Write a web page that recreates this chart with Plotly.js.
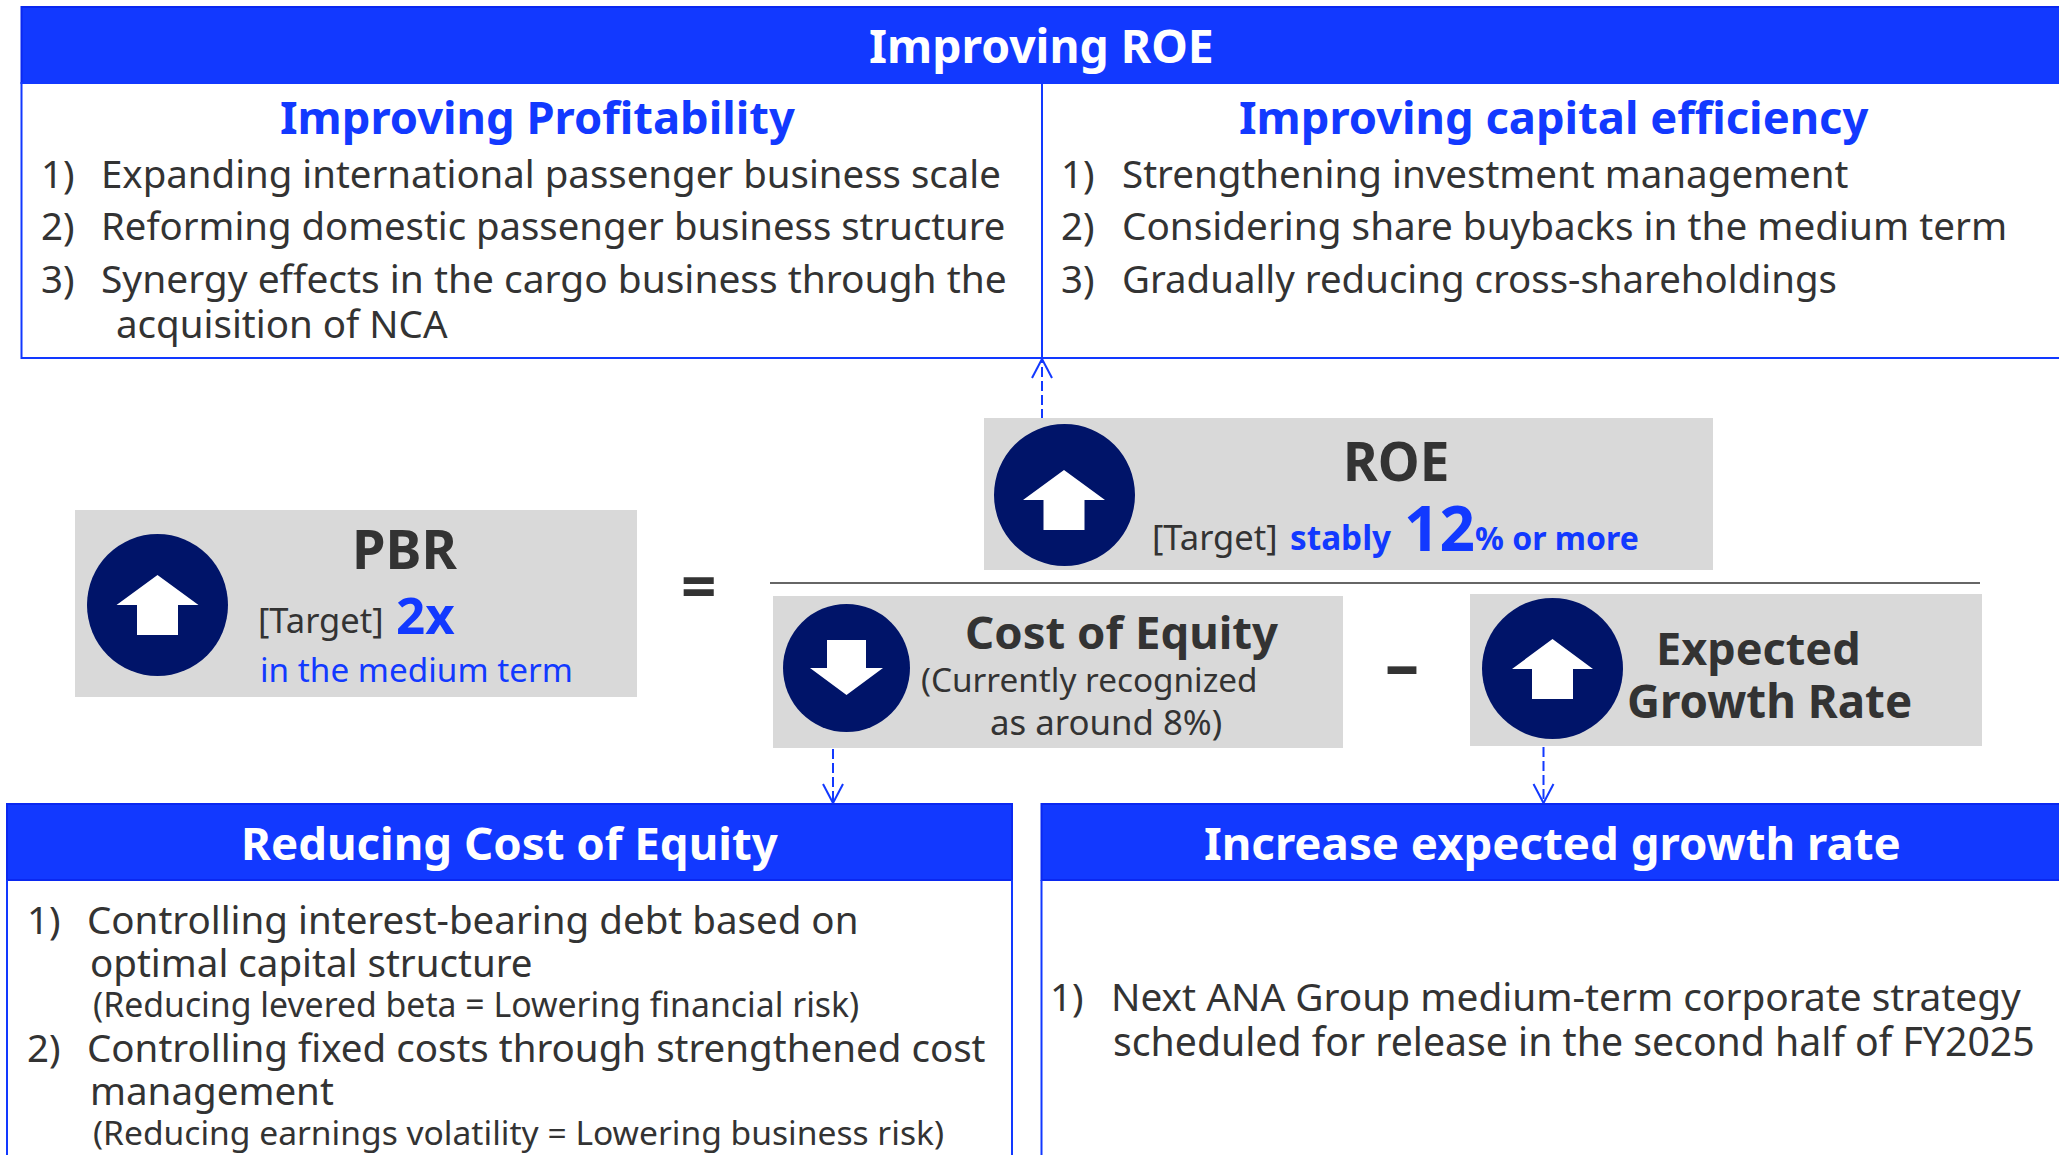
<!DOCTYPE html>
<html><head><meta charset="utf-8">
<script src="https://cdn.plot.ly/plotly-3.0.1.min.js"></script>
<style>html,body{margin:0;padding:0;background:#fff}#chart{width:2059px;height:1155px}</style></head>
<body><div id="chart"></div>
<script>
const mainTitle = "Improving ROE";
const profitabilityTitle = "Improving Profitability";
const profitabilityItems = ["Expanding international passenger business scale","Reforming domestic passenger business structure","Synergy effects in the cargo business through the","acquisition of NCA"];
const efficiencyTitle = "Improving capital efficiency";
const efficiencyItems = ["Strengthening investment management","Considering share buybacks in the medium term","Gradually reducing cross-shareholdings"];
const equityTitle = "Reducing Cost of Equity";
const equityItems = ["Controlling interest-bearing debt based on","optimal capital structure","(Reducing levered beta = Lowering financial risk)","Controlling fixed costs through strengthened cost","management","(Reducing earnings volatility = Lowering business risk)"];
const growthTitle = "Increase expected growth rate";
const growthItems = ["Next ANA Group medium-term corporate strategy","scheduled for release in the second half of FY2025"];
const numerals = ["1)","2)","3)"];

const BLUE="#1239ff", EDGE="#0a28f0", NAVY="#001469", GREY="#d9d9d9", INK="#333333";
const FONT='"Noto Sans", sans-serif';
const shapes=[], annotations=[];
function rect(x0,y0,x1,y1,fill,line,w){shapes.push({type:'rect',xref:'x',yref:'y',x0,y0,x1,y1,fillcolor:fill,line:{color:line||fill,width:line?(w||2):0},layer:'below'});}
function seg(x0,y0,x1,y1,c,w,dash){shapes.push({type:'line',xref:'x',yref:'y',x0,y0,x1,y1,line:{color:c,width:w,dash:dash||'solid'},layer:'below'});}
function circ(x0,y0,x1,y1){shapes.push({type:'circle',xref:'x',yref:'y',x0,y0,x1,y1,fillcolor:NAVY,line:{width:0},layer:'below'});}
function poly(pts){shapes.push({type:'path',xref:'x',yref:'y',path:'M'+pts.map(p=>p.join(',')).join('L')+'Z',fillcolor:'#fff',line:{width:0},layer:'below'});}
function arrowUp(cx,tip,wing,bot,hw,sw){poly([[cx,tip],[cx+hw,wing],[cx+sw,wing],[cx+sw,bot],[cx-sw,bot],[cx-sw,wing],[cx-hw,wing]]);}
function T(text,x,base,size,color,bold,anchor){annotations.push({text:text,x:x,y:base-0.40*size,xref:'x',yref:'y',xanchor:anchor||'left',yanchor:'middle',showarrow:false,borderpad:0,font:{family:FONT,size:size,color:color||INK,weight:bold?700:400}});}
function dashArrow(x,from,to,dir){seg(x,from,x,to,BLUE,2,'10px,4px');seg(x-10,to-dir*19,x,to,BLUE,2);seg(x+10,to-dir*19,x,to,BLUE,2);}

// top panel
rect(21.5,7,2075,83,BLUE,EDGE);
rect(21.5,83,2075,358,'rgba(0,0,0,0)',BLUE);
seg(1042,83,1042,358,BLUE,2);
dashArrow(1042,419,359,-1);
// bottom panels
rect(7,804,1012,880,BLUE,EDGE);
rect(1041.5,804,2075,880,BLUE,EDGE);
seg(7,880,7,1160,BLUE,2);seg(1012,880,1012,1160,BLUE,2);seg(1041.5,880,1041.5,1160,BLUE,2);
dashArrow(833,749,803,1);dashArrow(1543.5,747,803,1);
// grey boxes
rect(75,510,637,697,GREY);rect(984,418,1713,570,GREY);rect(773,596,1343,748,GREY);rect(1470,594,1982,746,GREY);
seg(770,583,1980,583,'#666666',2);
circ(87,534,228,676);circ(994,424,1135,566);circ(783,604,910,732);circ(1482,598,1623,739);
arrowUp(157.5,575,605,635,41,20.5);
arrowUp(1064,470,500,530,41,20.5);
arrowUp(846.5,695,668,640,36.5,19.5);
arrowUp(1552.5,639,669,699,40.5,20.5);

// text
T(mainTitle,1041,64,46.3,'#fff',true,'center');
T(profitabilityTitle,537.5,134.5,45.3,BLUE,true,'center');
T(efficiencyTitle,1553,134.5,45.3,BLUE,true,'center');
const topBases=[188,240,293];
const leftSizes=[38.4,38.3,38.9], rightSizes=[38.5,38.7,38.4];
topBases.forEach((b,i)=>{T(numerals[i],40,b,38.4);T(profitabilityItems[i],100,b,leftSizes[i]);T(numerals[i],1060,b,38.4);T(efficiencyItems[i],1120.5,b,rightSizes[i]);});
T(profitabilityItems[3],115,338.5,38.5);

T("PBR",404,570,54,INK,true,'center');
T("[Target]",257,633,34.5);
T("2x",395,634,51,BLUE,true);
T("in the medium term",259,682,33.3,BLUE);
T("=",698,610,62,INK,true,'center');

T("ROE",1396,482,53,INK,true,'center');
T("[Target]",1151,550,34.5);
T("stably",1288.5,550,33.3,BLUE,true);
T("12",1403,551.5,62,BLUE,true);
T("% or more",1474,550,32,BLUE,true);

T("Cost of Equity",1121,649.5,45.5,INK,true,'center');
T("(Currently recognized",920,692,33.3);
T("as around 8%)",989,735,34.8);
T("–",1402,690,68,INK,true,'center');
T("Expected",1758,665,45,INK,true,'center');
T("Growth Rate",1769,718,45.7,INK,true,'center');

T(equityTitle,510,860.5,45.6,'#fff',true,'center');
T(growthTitle,1552,860.5,45.6,'#fff',true,'center');
T(numerals[0],26,934,38.4);T(equityItems[0],85.5,934,38.5);T(equityItems[1],88.5,977,38.5);T(equityItems[2],92,1018,33.8);
T(numerals[1],26,1062,38.4);T(equityItems[3],85.5,1062,38.5);T(equityItems[4],88.5,1105,38.5);T(equityItems[5],92,1145,33.6);
T(numerals[0],1049,1011.5,38.4);T(growthItems[0],1109.5,1011.5,38.8);T(growthItems[1],1111.5,1056.5,39.2);

Plotly.newPlot('chart',[],{
 width:2059,height:1155,margin:{l:0,r:0,t:0,b:0},paper_bgcolor:'#fff',plot_bgcolor:'#fff',showlegend:false,
 xaxis:{range:[0,2059],visible:false,fixedrange:true},
 yaxis:{range:[1155,0],visible:false,fixedrange:true},
 shapes:shapes,annotations:annotations
},{displayModeBar:false,staticPlot:true});
</script></body></html>
